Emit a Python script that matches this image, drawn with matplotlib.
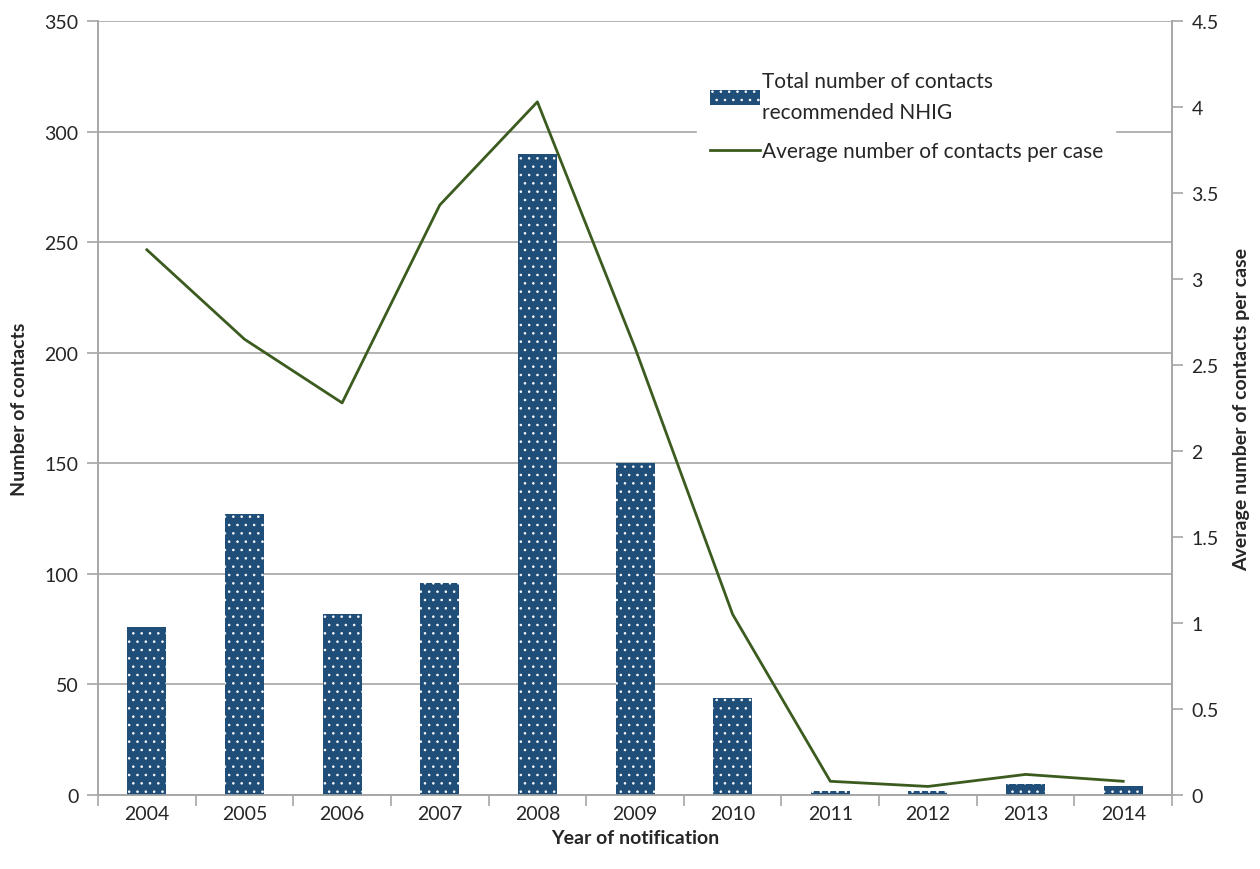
import numpy as np
import matplotlib
matplotlib.use("Agg")
import matplotlib.pyplot as plt

plt.rcParams["font.family"] = ["Lato", "DejaVu Sans"]
plt.rcParams["hatch.linewidth"] = 0.6

# --- data ---
years = ["2004", "2005", "2006", "2007", "2008", "2009", "2010", "2011", "2012", "2013", "2014"]
total_contacts = [76, 127, 82, 96, 290, 150, 44, 2, 2, 5, 4]
avg_contacts = [3.17, 2.65, 2.28, 3.43, 4.03, 2.60, 1.05, 0.08, 0.05, 0.12, 0.08]

bar_color = "#1F4E79"
line_color = "#3B5B1F"
axis_gray = "#A6A6A6"
text_color = "#262626"
fs = 14

fig = plt.figure(figsize=(12.6, 8.7), dpi=100)
ax = fig.add_axes([0.0778, 0.085, 0.8524, 0.8897])
ax2 = ax.twinx()

x = np.arange(len(years))
bars = ax.bar(x, total_contacts, width=0.4, color=bar_color, edgecolor="white",
              linewidth=0, hatch="..", zorder=3,
              label="Total number of contacts\nrecommended NHIG")
line, = ax2.plot(x, avg_contacts, color=line_color, linewidth=2.0,
                 label="Average number of contacts per case", zorder=4)

# axes ranges
ax.set_xlim(-0.5, len(years) - 0.5)
ax.set_ylim(0, 350)
ax.set_yticks(np.arange(0, 351, 50))
ax2.set_ylim(0, 4.5)
ax2.set_yticks(np.arange(0, 4.51, 0.5))
ax2.set_yticklabels(["0", "0.5", "1", "1.5", "2", "2.5", "3", "3.5", "4", "4.5"])

ax.set_xticks(x)
ax.set_xticklabels(years)
ax.set_xticks(np.arange(-0.5, len(years), 1.0), minor=True)
ax.tick_params(axis="x", which="major", length=0, pad=7, labelsize=fs, colors=text_color)
ax.tick_params(axis="x", which="minor", length=8, color=axis_gray, width=1.2)
ax.tick_params(axis="y", length=8, color=axis_gray, width=1.2, labelsize=fs, pad=6)
for t in ax.get_yticklabels():
    t.set_color(text_color)
ax2.tick_params(axis="y", length=8, color=axis_gray, width=1.2, labelsize=fs, pad=6)
for t in ax2.get_yticklabels():
    t.set_color(text_color)

ax.yaxis.grid(True, color=axis_gray, linewidth=1.2, zorder=0)
ax.set_axisbelow(True)

for a in (ax, ax2):
    a.spines["top"].set_visible(False)
    for s in ("left", "right", "bottom"):
        a.spines[s].set_color(axis_gray)
        a.spines[s].set_linewidth(1.2)

ax.set_xlabel("Year of notification", fontsize=fs, fontweight="bold", color=text_color, labelpad=5)
ax.set_ylabel("Number of contacts", fontsize=fs, fontweight="bold", color=text_color, labelpad=12)
ax2.set_ylabel("Average number of contacts per case", fontsize=fs, fontweight="bold",
               color=text_color, labelpad=10)

leg = ax2.legend([bars, line], [bars.get_label(), line.get_label()],
                 loc="upper left", bbox_to_anchor=(0.548, 0.965), frameon=True,
                 fontsize=15, handlelength=2.4, handletextpad=0.1, labelspacing=0.9,
                 borderpad=0.6, facecolor="white", edgecolor="white", framealpha=1.0,
                 fancybox=False)
for t in leg.get_texts():
    t.set_color(text_color)
    t.set_linespacing(1.7)

fig.savefig("out.png", dpi=100)
